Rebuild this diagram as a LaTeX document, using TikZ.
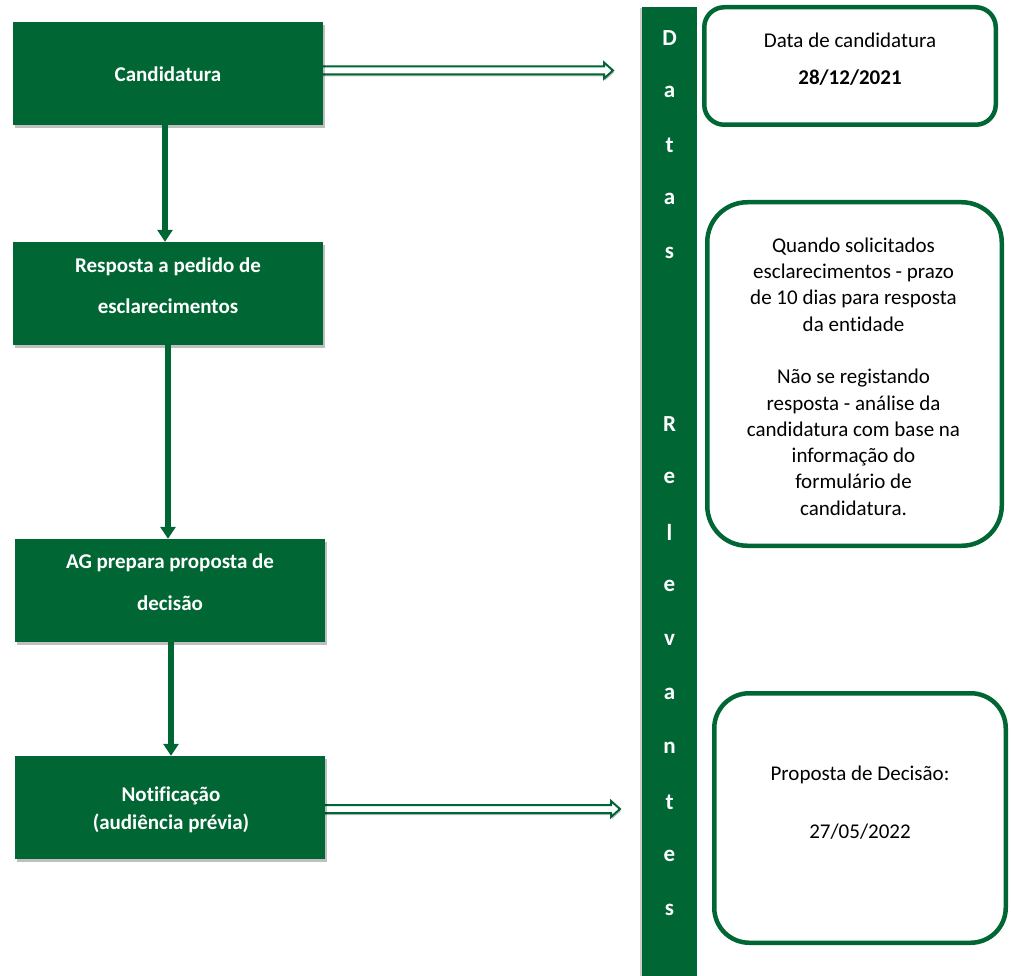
\documentclass[tikz,border=0pt]{standalone}
\usepackage{fontspec}
\setmainfont{Carlito}[Ligatures=NoCommon]
\usetikzlibrary{arrows.meta,shadows,calc}
\definecolor{dg}{RGB}{0,102,51}
\begin{document}
\begin{tikzpicture}[x=1pt,y=-1pt,
  gbox/.style={fill=dg, draw=none, minimum width=310pt, minimum height=103pt, inner sep=0pt,
    drop shadow={shadow xshift=2pt, shadow yshift=-3pt, fill=black, opacity=0.25}},
  rbox/.style={draw=dg, line width=4.5pt, fill=white, inner sep=0pt},
  wt/.style={text=white, font=\fontsize{21}{26}\selectfont\bfseries, inner sep=0pt},
  bt/.style={text=black, font=\fontsize{21}{26.3}\selectfont, inner sep=0pt},
  varrow/.style={draw=dg, line width=6pt, -{Triangle[width=15pt,length=12pt]}},
  hollow/.style={draw=dg, fill=white, line width=2pt, line join=miter,
    drop shadow={shadow xshift=1pt, shadow yshift=-2pt, fill=black, opacity=0.25}}]
\useasboundingbox (0,0) rectangle (1011,976);

% coordinates of the hollow arrow tips
\coordinate (t1) at (613,70.5);
\coordinate (t2) at (620,809);

% left boxes (positions only, drawn later)
\path (168,73.5) coordinate (candc) (170,807.5) coordinate (notc);
\path ([yshift=3pt]candc) ++(155,0) coordinate (a1);
\path ([yshift=-1.5pt]notc) ++(155,0) coordinate (a2);

% hollow arrows
\draw[hollow] ($(a1)+(-3,-4)$) -- ($(t1)+(-9,-4)$) -- ($(t1)+(-9,-8)$) -- (t1)
  -- ($(t1)+(-9,8)$) -- ($(t1)+(-9,4)$) -- ($(a1)+(-3,4)$) -- cycle;
\draw[hollow] ($(a2)+(-3,-4)$) -- ($(t2)+(-9,-4)$) -- ($(t2)+(-9,-8)$) -- (t2)
  -- ($(t2)+(-9,8)$) -- ($(t2)+(-9,4)$) -- ($(a2)+(-3,4)$) -- cycle;

% green boxes
\node[gbox] (cand) at (candc) {};
\node[gbox] (resp) at (168,293.5) {};
\node[gbox] (ag) at (170,590.5) {};
\node[gbox] (notif) at (notc) {};

\node[wt] (candT) at (168,74) {Candidatura};
\node[wt] (resp1) at (168,267) {Resposta a pedido de};
\node[wt] (resp2) at (168,306) {esclarecimentos};
\node[wt] (ag1) at (170,563) {AG prepara proposta de};
\node[wt] (ag2) at (170,603) {decisão};
\node[wt] (not1) at (171,796) {Notificação};
\node[wt] (not2) at (171,823) {(audiência prévia)};

% vertical arrows
\draw[varrow] ([xshift=-3pt]cand.south) -- ([xshift=-3pt]resp.north);
\draw[varrow] (resp.south) -- (resp.south |- ag.north);
\draw[varrow] ([xshift=1pt,yshift=20pt]ag.south) -- ([xshift=1pt]notif.north);

% vertical bar
\node[fill=dg, minimum width=55pt, minimum height=969pt, inner sep=0pt,
  drop shadow={shadow xshift=-2pt, shadow yshift=-1pt, fill=black, opacity=0.2}] (bar) at (669.5,491.5) {};
\foreach \ch/\yy [count=\i] in {D/38,a/92,t/145,a/199,s/253,R/424,e/478,l/532,e/586,v/640,a/694,n/748,t/802,e/856,s/910}
  \node[wt, font=\fontsize{23}{26}\selectfont\bfseries] (L\i) at (669.5,\yy) {\ch};

% right boxes
\node[rbox, rounded corners=20pt, minimum width=291.5pt, minimum height=117.5pt] (b1) at (850,66) {};
\node[rbox, rounded corners=40pt, minimum width=294.5pt, minimum height=343.5pt] (b2) at (854.5,374) {};
\node[rbox, rounded corners=35pt, minimum width=291.5pt, minimum height=249.5pt] (b3) at (860,818) {};

\node[bt] (b1a) at (850,40) {Data de candidatura};
\node[bt, font=\fontsize{21}{26.3}\selectfont\bfseries] (b1b) at (850,78) {28/12/2021};
\node[bt, align=center] (b2t) at (853.5,376.5) {Quando solicitados\\esclarecimentos - prazo\\de 10 dias para resposta\\da entidade\\[26.3pt]Não se registando\\resposta - análise da\\candidatura com base na\\informação do\\formulário de\\candidatura.};
\node[bt] (b3a) at (860,775) {Proposta de Decisão:};
\node[bt] (b3b) at (860,832) {27/05/2022};
\end{tikzpicture}
\end{document}
